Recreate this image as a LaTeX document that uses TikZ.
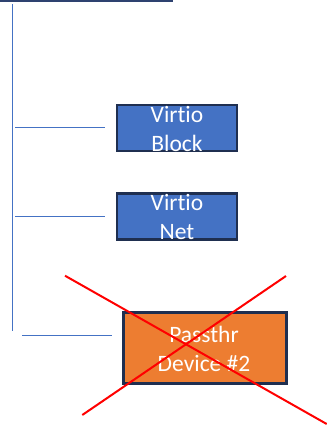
\documentclass[tikz,border=0pt]{standalone}
\usepackage{fontspec}
\setmainfont{Carlito}[Ligatures=NoCommon]
\definecolor{boxblue}{HTML}{4472C4}
\definecolor{boxorange}{HTML}{ED7D31}
\definecolor{navy}{HTML}{1F2F50}
\definecolor{topnavy}{HTML}{2E4270}
\definecolor{xred}{HTML}{FF0000}
\tikzset{
  vbox/.style={draw=navy, line width=2.2pt, fill=boxblue, minimum width=120pt, minimum height=46pt, inner sep=0pt},
  obox/.style={draw=navy, line width=2.2pt, fill=boxorange, minimum width=163pt, minimum height=71pt, inner sep=0pt},
  lbl/.style={text=white, align=center, inner sep=0pt, font=\fontsize{23.5}{29}\selectfont},
  bline/.style={draw=boxblue, line width=1pt},
  cross/.style={draw=xred, line width=2pt}
}
\begin{document}
\begin{tikzpicture}[x=1pt,y=-1pt]
\useasboundingbox (0,0) rectangle (327,432);
% top line
\coordinate (t0) at (0,0.8);
\coordinate (t1) at (173,0.8);
\draw[topnavy, line width=1.8pt] (t0) -- (t1);
% vertical bus
\coordinate (v0) at (12.7,4);
\coordinate (v1) at (12.7,331);
\draw[bline] (v0) -- (v1);
% boxes
\node[vbox] (blk) at (177,128.2) {};
\node[lbl] (blkt) at (177,128.6) {Virtio\\Block};
\node[vbox] (net) at (177,216.4) {};
\node[lbl] (nett) at (177,216.6) {Virtio\\Net};
\node[obox] (pt) at (205,348) {};
\node[lbl] (ptt) at (204,348.8) {Passthr\\Device \#2};
% horizontal branches
\coordinate (h1a) at (15,127.7);
\coordinate (h1b) at (105,127.7);
\draw[bline] (h1a) -- (h1b);
\coordinate (h2a) at (15,216);
\coordinate (h2b) at (105,216);
\draw[bline] (h2a) -- (h2b);
\coordinate (h3a) at (22,335.7);
\coordinate (h3b) at (112,335.7);
\draw[bline] (h3a) -- (h3b);
% red cross
\coordinate (c1a) at (65,275.7);
\coordinate (c1b) at (326.7,424);
\coordinate (c2a) at (286,276);
\coordinate (c2b) at (82.3,415);
\draw[cross] (c1a) -- (c1b);
\draw[cross] (c2a) -- (c2b);
\end{tikzpicture}
\end{document}
